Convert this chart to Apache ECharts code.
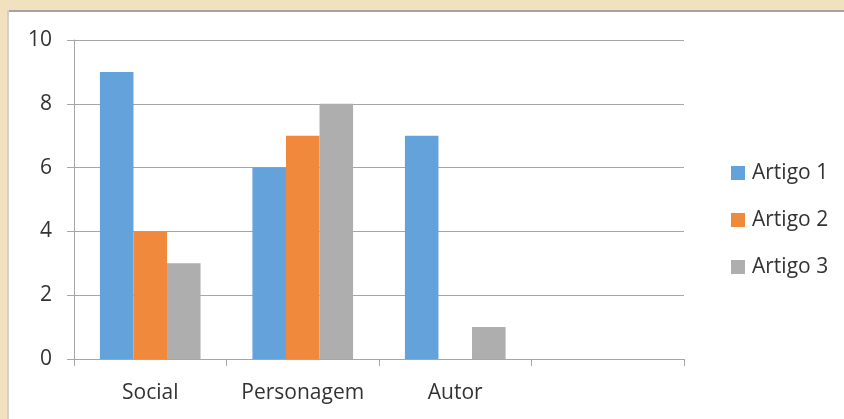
<!DOCTYPE html>
<html>
<head>
<meta charset="utf-8">
<style>
  html, body { margin: 0; padding: 0; background: #ffffff; }
  #chart { width: 844px; height: 419px; }
</style>
<script src="https://cdn.jsdelivr.net/npm/echarts@6/dist/echarts.min.js"></script>
</head>
<body>
<div id="chart"></div>
<script>
// Categories (the last slot is an empty group on the axis)
const categories = ['Social', 'Personagem', 'Autor', ''];
// Series values
const artigo1 = [9, 6, 7, null];
const artigo2 = [4, 7, 0, null];
const artigo3 = [3, 8, 1, null];
// Value axis ticks
const yMin = 0, yMax = 10, yStep = 2;

const axisGray = '#A6A6A6';
const textColor = '#333333';
const fontFamily = '"Open Sans", "Liberation Sans", sans-serif';

const chart = echarts.init(document.getElementById('chart'), null, { renderer: 'canvas' });

function barSeries(name, data, color) {
  return {
    name: name,
    type: 'bar',
    data: data,
    itemStyle: { color: color },
    barGap: '0%',
    barCategoryGap: '34%'
  };
}

chart.setOption({
  animation: false,
  backgroundColor: '#ffffff',
  graphic: [
    // beige frame along the top and left edges
    { type: 'rect', shape: { x: 0, y: 0, width: 844, height: 10 }, style: { fill: '#F1E1BF' }, silent: true, z: 0 },
    { type: 'rect', shape: { x: 0, y: 0, width: 7, height: 419 }, style: { fill: '#F1E1BF' }, silent: true, z: 0 },
    { type: 'rect', shape: { x: 7, y: 10, width: 837, height: 2 }, style: { fill: '#A3A3A3' }, silent: true, z: 0 },
    { type: 'rect', shape: { x: 7, y: 10, width: 2, height: 409 }, style: { fill: '#D0D0D0' }, silent: true, z: 0 }
  ],
  grid: { left: 74, top: 40, right: 160, bottom: 60, containLabel: false },
  legend: {
    orient: 'vertical',
    left: 726,
    top: 156,
    itemWidth: 14,
    itemHeight: 14,
    itemGap: 23,
    icon: 'rect',
    textStyle: { color: textColor, fontSize: 21, lineHeight: 24, fontFamily: fontFamily, padding: [0, 0, 0, 2] },
    data: ['Artigo 1', 'Artigo 2', 'Artigo 3']
  },
  xAxis: {
    type: 'category',
    data: categories,
    boundaryGap: true,
    axisLine: { show: true, lineStyle: { color: axisGray, width: 1 } },
    axisTick: { show: true, alignWithLabel: false, length: 7, lineStyle: { color: axisGray } },
    axisLabel: { color: textColor, fontSize: 21, fontFamily: fontFamily, margin: 24, interval: 0 },
    splitLine: { show: false }
  },
  yAxis: {
    type: 'value',
    min: yMin,
    max: yMax,
    interval: yStep,
    axisLine: { show: true, lineStyle: { color: axisGray, width: 1 } },
    axisTick: { show: true, length: 7, lineStyle: { color: axisGray } },
    axisLabel: { color: textColor, fontSize: 21, fontFamily: fontFamily, margin: 22 },
    splitLine: { show: true, lineStyle: { color: axisGray, width: 1 } }
  },
  series: [
    barSeries('Artigo 1', artigo1, '#63A2DA'),
    barSeries('Artigo 2', artigo2, '#F0893B'),
    barSeries('Artigo 3', artigo3, '#ADAEAD')
  ]
});
</script>
</body>
</html>
